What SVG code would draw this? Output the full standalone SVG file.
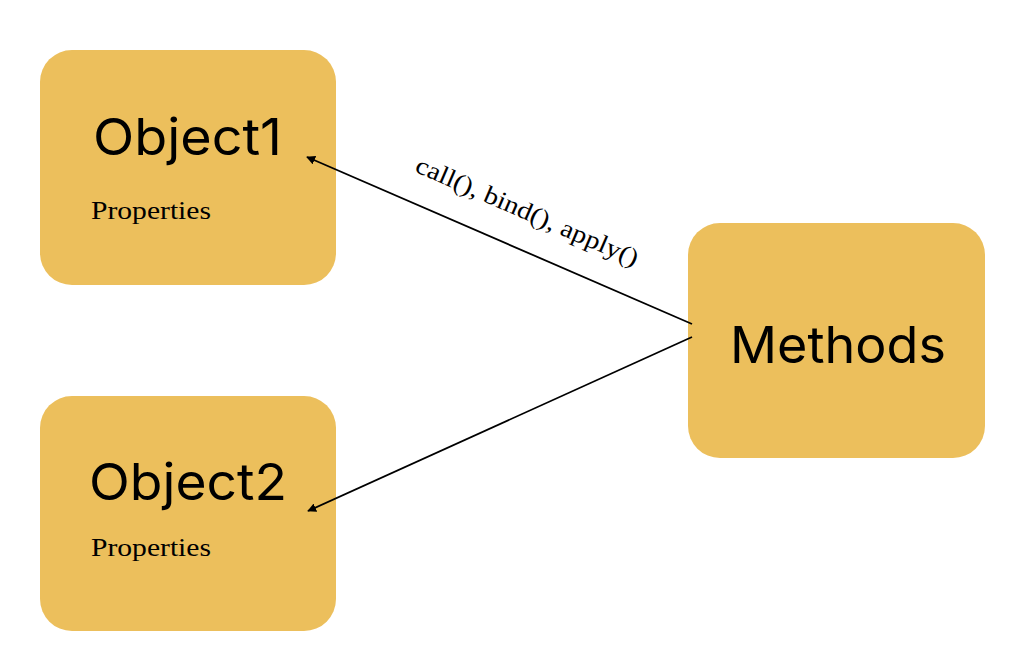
<svg xmlns="http://www.w3.org/2000/svg" width="1024" height="664" viewBox="0 0 1024 664">
<style>
.box{fill:#ECBF5C}
.title{font-family:Inter,"Open Sans",sans-serif;font-size:51px;fill:#000}
.prop{font-family:"Liberation Serif","DejaVu Serif",serif;font-size:25px;fill:#000}
.edge{stroke:#000;stroke-width:1.8;fill:none}
.lbl{font-family:"Liberation Serif","DejaVu Serif",serif;font-size:25px;fill:#000}
</style>
<defs>
<marker id="arr" viewBox="0 0 10 10" refX="9" refY="5" markerWidth="9" markerHeight="9" markerUnits="userSpaceOnUse" orient="auto">
<path d="M0,0 L10,5 L0,10 z" fill="#000"/>
</marker>
</defs>
<rect width="1024" height="664" fill="#fff"/>
<g id="object1">
<rect class="box" x="40" y="50" width="296" height="235" rx="32"/>
<text class="title" x="93" y="155" textLength="189" lengthAdjust="spacingAndGlyphs">Object1</text>
<text class="prop" x="91" y="219" textLength="120" lengthAdjust="spacingAndGlyphs">Properties</text>
</g>
<g id="object2">
<rect class="box" x="40" y="396" width="296" height="235" rx="32"/>
<text class="title" x="89" y="500" textLength="198" lengthAdjust="spacingAndGlyphs">Object2</text>
<text class="prop" x="91" y="556" textLength="120" lengthAdjust="spacingAndGlyphs">Properties</text>
</g>
<g id="methods">
<rect class="box" x="688" y="223" width="297" height="235" rx="32"/>
<text class="title" x="730" y="363" textLength="216" lengthAdjust="spacingAndGlyphs">Methods</text>
</g>
<g id="connectors">
<line class="edge" x1="692" y1="324" x2="307" y2="157" marker-end="url(#arr)"/>
<line class="edge" x1="692" y1="337" x2="308" y2="511" marker-end="url(#arr)"/>
<text class="lbl" transform="translate(524,219) rotate(23.4)" text-anchor="middle" textLength="240" lengthAdjust="spacingAndGlyphs">call(), bind(), apply()</text>
</g>
</svg>
